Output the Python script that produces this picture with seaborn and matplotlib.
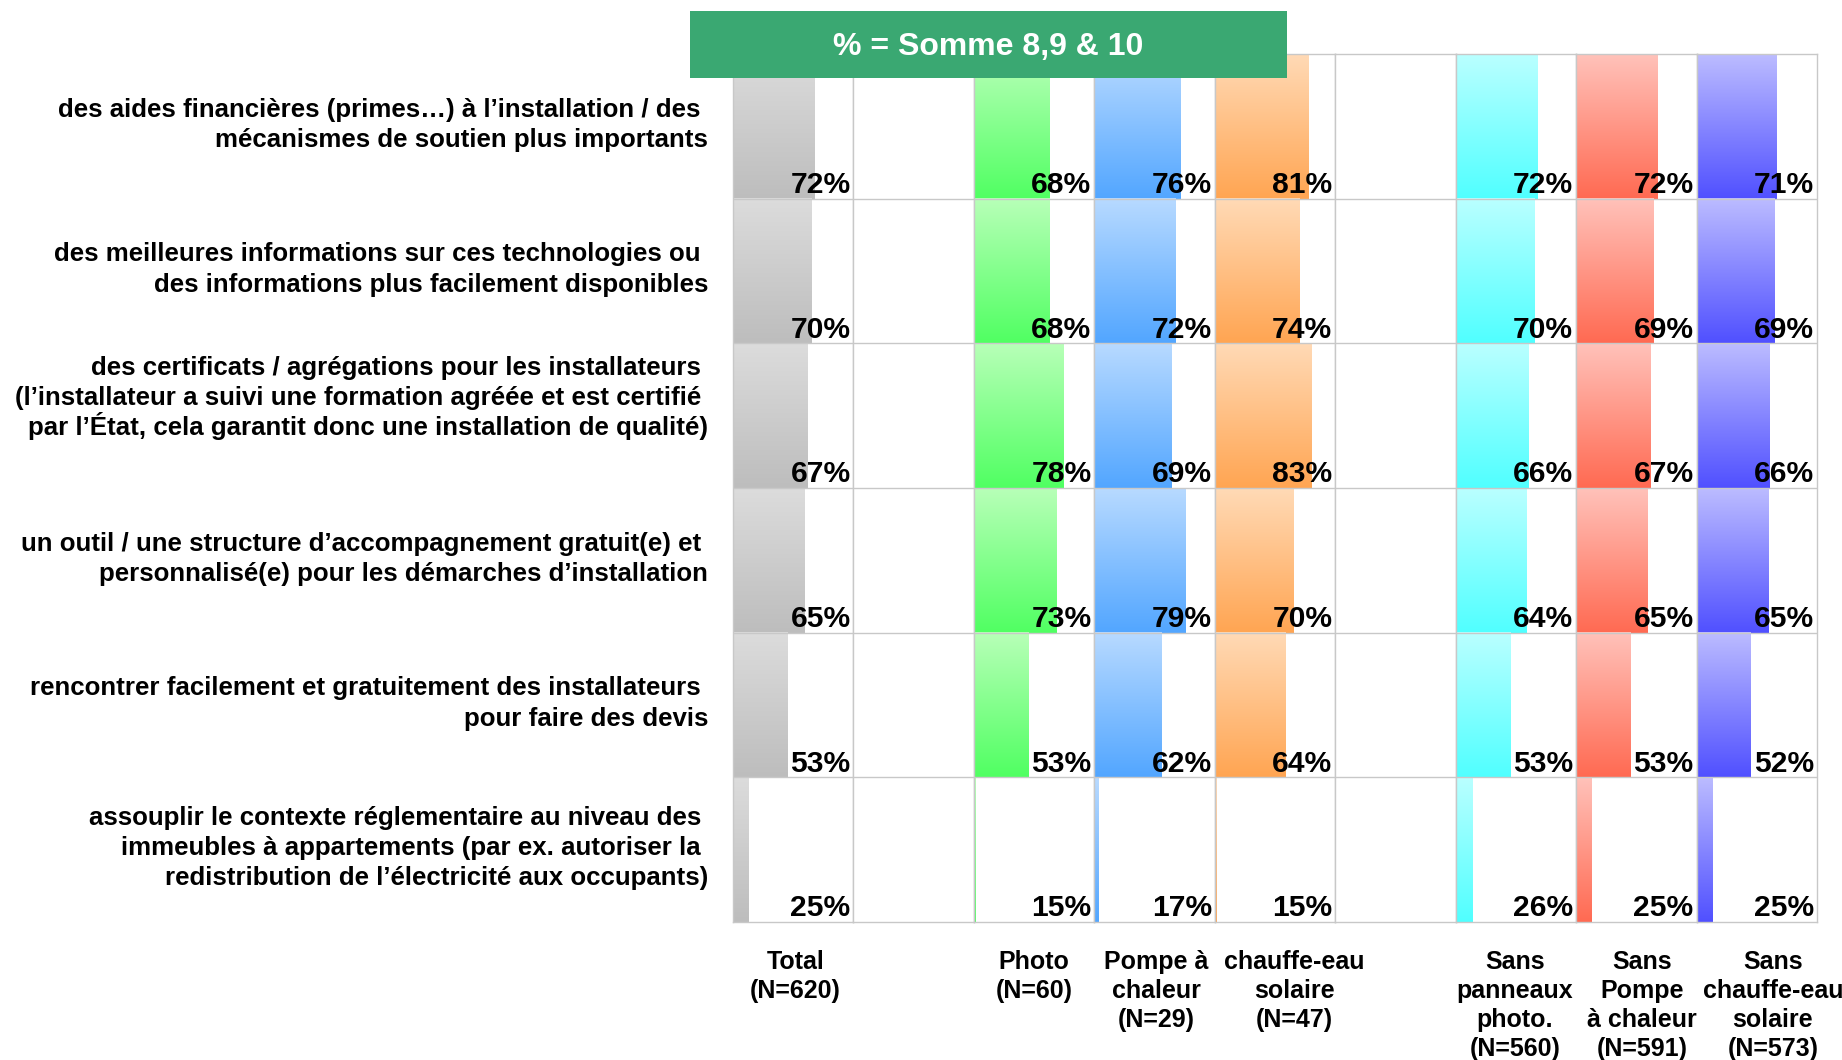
import numpy as np
import pandas as pd
import matplotlib
matplotlib.use("Agg")
import matplotlib.pyplot as plt
import seaborn as sns
from matplotlib.colors import LinearSegmentedColormap
from matplotlib.patches import Rectangle

sns.set_theme(style="white")
plt.rcParams["font.family"] = ["Liberation Sans", "DejaVu Sans"]
plt.rcParams["font.weight"] = "bold"
plt.rcParams["text.color"] = "black"

# Row labels (items) - trailing spaces kept as in the original layout
items = [
    "des aides financières (primes…) à l’installation / des \nmécanismes de soutien plus importants",
    "des meilleures informations sur ces technologies ou \ndes informations plus facilement disponibles",
    "des certificats / agrégations pour les installateurs \n(l’installateur a suivi une formation agréée et est certifié \npar l’État, cela garantit donc une installation de qualité)",
    "un outil / une structure d’accompagnement gratuit(e) et \npersonnalisé(e) pour les démarches d’installation",
    "rencontrer facilement et gratuitement des installateurs \npour faire des devis",
    "assouplir le contexte réglementaire au niveau des \nimmeubles à appartements (par ex. autoriser la \nredistribution de l’électricité aux occupants)",
]

# Column headers (None = empty spacer column)
col_labels = [
    "Total\n(N=620)",
    None,
    "Photo\n(N=60)",
    "Pompe à\nchaleur\n(N=29)",
    "chauffe-eau\nsolaire\n(N=47)",
    None,
    "Sans\npanneaux\nphoto.\n(N=560)",
    "Sans\nPompe\nà chaleur\n(N=591)",
    "Sans\nchauffe-eau\nsolaire\n(N=573)",
]

# Values (%) per column
total = [72, 70, 67, 65, 53, 25]
photo = [68, 68, 78, 73, 53, 15]
pompe = [76, 72, 69, 79, 62, 17]
chauffe = [81, 74, 83, 70, 64, 15]
sans_photo = [72, 70, 66, 64, 53, 26]
sans_pompe = [72, 69, 67, 65, 53, 25]
sans_chauffe = [71, 69, 66, 65, 52, 25]

col_values = [total, None, photo, pompe, chauffe, None, sans_photo, sans_pompe, sans_chauffe]

# gradient colours (top, bottom)
col_colors = [
    ("#DCDCDC", "#BDBDBD"),
    None,
    ("#B8FFB8", "#50FF62"),
    ("#B8DAFF", "#52A6FF"),
    ("#FFDAB6", "#FFA552"),
    None,
    ("#BAFFFF", "#50FFFF"),
    ("#FFC2BA", "#FF6A52"),
    ("#BCBCFF", "#5050FF"),
]

title = "% = Somme 8,9 & 10"

W, H = 1842, 1060
XMIN, XMAX = 14, 100
GRID = "#C8C8C8"
PX = 0.72  # points per pixel at dpi 100

# small horizontal nudges of the column headers (pixels), as in the original
header_dx = [2, 0, 0, 2, 19, 0, -1, 6, 16]

fig = plt.figure(figsize=(W / 100, H / 100), dpi=100)
axes = fig.subplots(1, 9, gridspec_kw=dict(left=733 / W, right=1817 / W,
                                           bottom=1 - 922 / H, top=1 - 54 / H,
                                           wspace=0))

grad = np.linspace(0, 1, 256).reshape(-1, 1)
n = len(items)

for k, (ax, label, vals, cols) in enumerate(zip(axes, col_labels, col_values, col_colors)):
    if vals is not None:
        df = pd.DataFrame({"item": items, "pct": vals})
        sns.barplot(data=df, x="pct", y="item", orient="h", width=1.0,
                    color=cols[1], saturation=1, errorbar=None, ax=ax)
        cmap = LinearSegmentedColormap.from_list("g", list(cols))
        for bar in ax.patches:
            x0, y0 = bar.get_x(), bar.get_y()
            x1, y1 = x0 + bar.get_width(), y0 + bar.get_height()
            ax.imshow(grad, cmap=cmap, extent=(max(x0, XMIN), x1, y1, y0),
                      aspect="auto", origin="upper", zorder=1, interpolation="bilinear")
            bar.set_visible(False)
        for i, v in enumerate(vals):
            ax.text(97.9, i + 0.5 - 0.04, f"{v}%", ha="right", va="baseline",
                    fontsize=21.6, fontweight="bold", color="black", zorder=3)
    ax.set_xlim(XMIN, XMAX)
    ax.set_ylim(n - 0.5, -0.5)
    ax.set_xticks([])
    ax.set_yticks([])
    ax.set_xlabel("")
    ax.set_ylabel("")
    for r in range(1, n):
        ax.axhline(r - 0.5, color=GRID, lw=1.0, zorder=2)
    for sp in ax.spines.values():
        sp.set_visible(True)
        sp.set_color(GRID)
        sp.set_linewidth(1.0)
    if label is not None:
        ax.annotate(label, xy=(0.5, 0), xycoords="axes fraction",
                    xytext=(header_dx[k] * PX, -20), textcoords="offset points",
                    ha="center", va="top", fontsize=18, fontweight="bold",
                    linespacing=1.26, color="black")

# row labels, one line at a time so accented capitals do not stretch spacing
ax0 = axes[0]
line_gap = 30.3
for i, text in enumerate(items):
    lines = text.split("\n")
    m = len(lines)
    mid = 5.5 if i != 2 else -10.5
    for j, line in enumerate(lines):
        dy = mid + (j - (m - 1) / 2) * line_gap
        ax0.annotate(line, xy=(0, i), xycoords=ax0.get_yaxis_transform(),
                     xytext=(-25 * PX, -dy * PX), textcoords="offset points",
                     ha="right", va="baseline", fontsize=18.6, fontweight="bold",
                     color="black")

# header box
fig.add_artist(Rectangle((690 / W, 1 - 78 / H), 597 / W, 67 / H, transform=fig.transFigure,
                         facecolor="#3AA872", edgecolor="none", zorder=5))
fig.text((690 + 1287) / 2 / W, 1 - 47 / H, title, ha="center", va="center",
         fontsize=23, fontweight="bold", color="white", zorder=6)

fig.savefig("out.png", dpi=100)
